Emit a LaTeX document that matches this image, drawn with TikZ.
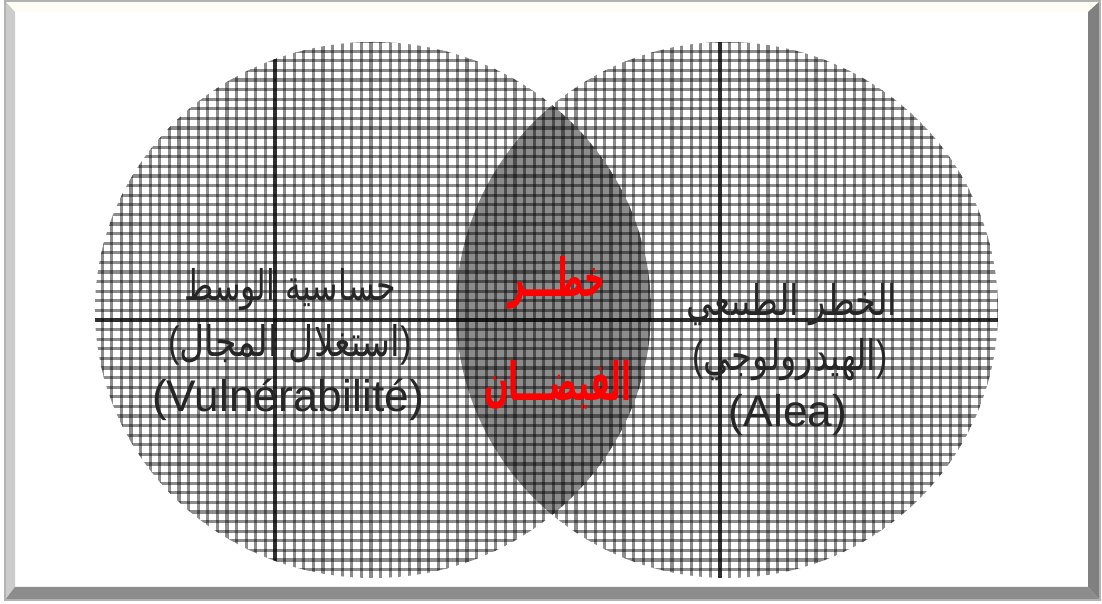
\documentclass[tikz,border=0pt]{standalone}
\usepackage{fontspec}
\setmainfont{Liberation Sans}
\newfontfamily\arabicfont[Script=Arabic]{DejaVu Sans}
\TeXXeTstate=1

\tikzset{
  meshline/.style={black, opacity=0.45, line width=0.9pt},
  mainline/.style={black, opacity=0.65, line width=1.2pt},
  arlabel/.style={text=black!85, font=\arabicfont\fontsize{12}{14}\selectfont},
  latlabel/.style={text=black!85, font=\fontsize{12.6}{15}\selectfont},
  redlabel/.style={text=red, font=\arabicfont\bfseries\fontsize{15}{18}\selectfont}
}
% 括号 (从左到右)
\newcommand{\lpar}{{\normalfont(}}
\newcommand{\rpar}{{\normalfont)}}

\begin{document}
\begin{tikzpicture}[x=0.01cm, y=-0.01cm]
    \useasboundingbox (0,0) rectangle (1102,604);
    \fill[white] (0,0) rectangle (1102,604);

    % 1. 交集 (深灰)
    \begin{scope}
      \clip (373,310) ellipse [x radius=278, y radius=268];
      \fill[black!45] (727,310) ellipse [x radius=271, y radius=268];
    \end{scope}

    % 2. 左圆 (网格)
    \begin{scope}
      \clip (373,310) ellipse [x radius=278, y radius=268];
      \foreach \k in {-20,...,40}
        \draw[meshline] (275+\k*9.6, 30) -- (275+\k*9.6, 590);
      \foreach \k in {-30,...,30}
        \draw[meshline] (80, 320+\k*9.6) -- (670, 320+\k*9.6);
      \draw[mainline] (275, 30) -- (275, 590);
      \draw[mainline] (80, 320) -- (670, 320);
    \end{scope}

    % 3. 右圆 (网格, 交集除外)
    \begin{scope}
      \clip (727,310) ellipse [x radius=271, y radius=268];
      \begin{scope}[even odd rule]
        \clip (0,0) rectangle (1102,604) (373,310) ellipse [x radius=278, y radius=268];
        \foreach \k in {-30,...,30}
          \draw[meshline] (720+\k*9.6, 30) -- (720+\k*9.6, 590);
        \foreach \k in {-30,...,30}
          \draw[meshline] (440, 320+\k*9.6) -- (1010, 320+\k*9.6);
        \draw[mainline] (440, 320) -- (1010, 320);
      \end{scope}
      \draw[mainline] (720, 30) -- (720, 590);
    \end{scope}

    % 4. 文字
    \node[arlabel] (vulnA) at (290,290) {\scalebox{0.75}[1]{\beginR حساسية الوسط\endR}};
    \node[arlabel] (vulnB) at (290,345) {\scalebox{0.82}[1]{\lpar\beginR استغلال المجال\endR\rpar}};
    \node[latlabel] (vulnC) at (288,400) {(Vulnérabilité)};

    \node[arlabel] (aleaA) at (792,305) {\scalebox{0.8}[1]{\beginR الخطر الطبيعي\endR}};
    \node[arlabel] (aleaB) at (790,360) {\scalebox{0.8}[1]{\lpar\beginR الهيدرولوجي\endR\rpar}};
    \node[latlabel] (aleaC) at (788,415) {(Alea)};

    \node[redlabel] (riskA) at (557,283) {\scalebox{0.55}[1]{\beginR خطـــر\endR}};
    \node[redlabel] (riskB) at (558,385) {\scalebox{0.55}[1]{\beginR الفيضـــان\endR}};

    % 5. 边框
    \fill[black!12!yellow!4] (5,1) -- (1100,1) -- (1088,12) -- (15,12) -- cycle;
    \fill[black!20] (5,1) -- (15,12) -- (15,587) -- (5,600) -- cycle;
    \fill[black!50] (1100,1) -- (1100,600) -- (1088,587) -- (1088,12) -- cycle;
    \fill[black!45] (5,600) -- (1100,600) -- (1088,587) -- (15,587) -- cycle;
    \draw[black!30, line width=0.6pt] (5,1) rectangle (1100,600);

\end{tikzpicture}
\end{document}
